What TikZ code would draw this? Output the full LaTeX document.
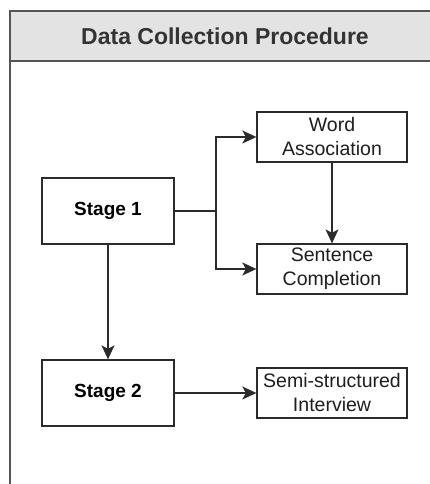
\documentclass[tikz,border=0pt]{standalone}
\usepackage{fontspec}
\setmainfont{Liberation Sans}
\usetikzlibrary{arrows.meta}
\definecolor{linec}{HTML}{2B2B2B}
\definecolor{headfill}{HTML}{E3E3E3}
\definecolor{textc}{HTML}{1E1E1E}
\tikzset{
  box/.style={draw=linec, line width=1.3pt, fill=white, minimum width=150pt, minimum height=50pt,
    align=center, inner sep=0pt, text=textc, font=\fontsize{19.5}{24}\selectfont},
  stagebox/.style={draw=linec, line width=1.3pt, fill=white, minimum width=132pt, minimum height=66pt,
    align=center, inner sep=0pt, text=black, font=\fontsize{19}{23}\selectfont\bfseries},
  conn/.style={draw=linec, line width=1.4pt},
  arr/.style={conn, -{Stealth[length=14pt,width=13pt,inset=3.5pt]}}
}
\begin{document}
\begin{tikzpicture}[x=1pt,y=-1pt]
\useasboundingbox (0,0) rectangle (430,484);
\begin{scope}
\clip (0,0) rectangle (430,484);
% outer container
\draw[draw=linec!80, line width=1.3pt, fill=white] (10,11) rectangle (450,520);
\draw[draw=linec!80, line width=1.3pt, fill=headfill] (10,11) rectangle (450,61);
\end{scope}
\node[text=black!80, font=\fontsize{23}{27}\selectfont\bfseries] (title) at (225,36) {Data Collection Procedure};

\node[stagebox] (s1) at (108,211) {Stage 1};
\node[stagebox] (s2) at (108,393) {Stage 2};
\node[box] (wa) at (332,137) {Word\\Association};
\node[box] (sc) at (332,269) {Sentence\\Completion};
\node[box] (ss) at (332,393) {Semi-structured\\Interview};

\coordinate (br) at (216,211);
\draw[conn] (s1.east) -- (br);
\draw[arr] (br) |- (wa.west);
\draw[arr] (br) |- (sc.west);
\draw[arr] (wa.south) -- (sc.north);
\draw[arr] (s1.south) -- (s2.north);
\draw[arr] (s2.east) -- (ss.west);
\end{tikzpicture}
\end{document}
